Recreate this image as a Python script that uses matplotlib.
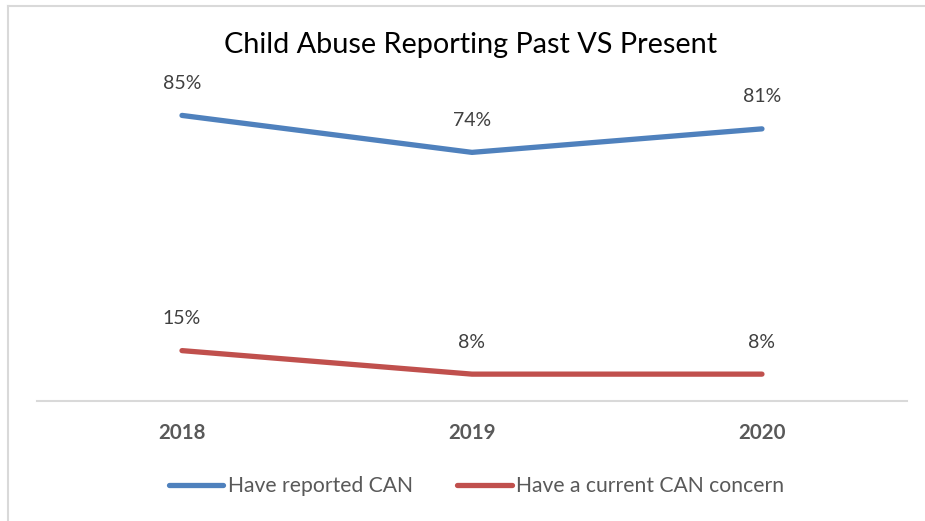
import matplotlib.pyplot as plt
from matplotlib.lines import Line2D

years = ['2018', '2019', '2020']
reported = [85, 74, 81]
concern = [15, 8, 8]
series_names = ['Have reported CAN', 'Have a current CAN concern']

plt.rcParams['font.family'] = ['Lato', 'DejaVu Sans']

fig = plt.figure(figsize=(9.25, 5.21), dpi=100)
ax = fig.add_axes([0.04, 0.2303, 0.9405, 0.6449])

blue = '#4F81BD'
red = '#C0504D'
x = list(range(len(years)))

ax.plot(x, reported, color=blue, lw=3.8, solid_capstyle='round', label=series_names[0])
ax.plot(x, concern, color=red, lw=3.8, solid_capstyle='round', label=series_names[1])

for xs, vals in [(x, reported), (x, concern)]:
    for xi, v in zip(xs, vals):
        ax.annotate(f'{v}%', (xi, v), xytext=(0, 23), textcoords='offset points',
                    ha='center', va='center', fontsize=14, color='#404040')

ax.set_xlim(-0.5, 2.5)
ax.set_ylim(0, 100)
ax.set_xticks(x)
ax.set_xticklabels(years, fontsize=14.8, fontweight='bold', color='#595959')
ax.tick_params(axis='x', length=0, pad=16)
ax.set_yticks([])
for s in ['top', 'right', 'left']:
    ax.spines[s].set_visible(False)
ax.spines['bottom'].set_color('#D9D9D9')
ax.spines['bottom'].set_linewidth(1.5)

fig.text(0.509, 1 - 45 / 521, 'Child Abuse Reporting Past VS Present',
         ha='center', va='center', fontsize=20.8, color='#000000')

handles = [Line2D([], [], color=blue, lw=3.8, solid_capstyle='round'),
           Line2D([], [], color=red, lw=3.8, solid_capstyle='round')]
fig.legend(handles, series_names, loc='center', bbox_to_anchor=(0.515, 1 - 486 / 521),
           ncol=2, frameon=False, fontsize=15.2, handlelength=2.6, handletextpad=0.2,
           columnspacing=2.1, labelcolor='#595959')

# outer frame (top and left only)
fig.add_artist(Line2D([8 / 925, 1], [1 - 5.5 / 521] * 2, color='#D9D9D9', lw=1.5))
fig.add_artist(Line2D([8 / 925] * 2, [0, 1 - 5.5 / 521], color='#D9D9D9', lw=1.5))

fig.savefig('out.png', dpi=100)
